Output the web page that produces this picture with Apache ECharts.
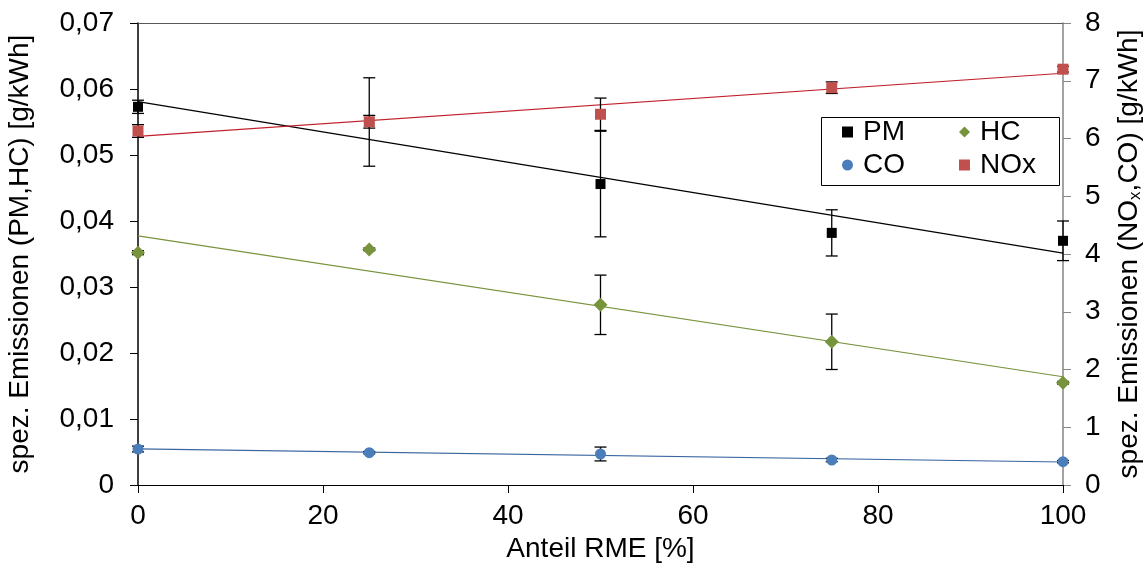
<!DOCTYPE html>
<html>
<head>
<meta charset="utf-8">
<script src="https://cdn.jsdelivr.net/npm/echarts@6/dist/echarts.min.js"></script>
<style>
  html, body { margin: 0; padding: 0; background: #fff; }
  #chart { width: 1147px; height: 565px; }
</style>
</head>
<body>
<div id="chart"></div>
<script>
// Anteil RME [%]
var shareRME = [0, 25, 50, 75, 100];
// left axis (g/kWh)
var pm = [0.0573, 0.0550, 0.0456, 0.0382, 0.0370];
var pmErr = [0.0010, 0.0067, 0.0080, 0.0035, 0.0030];
var hc = [0.0352, 0.0357, 0.0273, 0.0217, 0.0155];
var hcErr = [0.0003, 0.0002, 0.0045, 0.0042, 0.0002];
// right axis (g/kWh)
var co = [0.623, 0.560, 0.537, 0.433, 0.404];
var coErr = [0.05, 0.02, 0.12, 0.03, 0.02];
var nox = [6.13, 6.29, 6.42, 6.88, 7.20];
var noxErr = [0.11, 0.11, 0.28, 0.10, 0.05];

var xTicks = [0, 20, 40, 60, 80, 100];

var FONT = 'Liberation Sans';

function points(ys) {
    var out = [];
    for (var i = 0; i < shareRME.length; i++) out.push([shareRME[i], ys[i]]);
    return out;
}

function errRange(ys, es) {
    var out = [];
    for (var i = 0; i < shareRME.length; i++) out.push([shareRME[i], ys[i] - es[i], ys[i] + es[i]]);
    return out;
}

// linear trend line (least squares) like Excel
function trend(ys) {
    var n = shareRME.length, sx = 0, sy = 0, sxy = 0, sxx = 0;
    for (var i = 0; i < n; i++) {
        sx += shareRME[i]; sy += ys[i];
        sxy += shareRME[i] * ys[i]; sxx += shareRME[i] * shareRME[i];
    }
    var b = (n * sxy - sx * sy) / (n * sxx - sx * sx);
    var a = (sy - b * sx) / n;
    var x0 = xTicks[0], x1 = xTicks[xTicks.length - 1];
    return [[x0, a + b * x0], [x1, a + b * x1]];
}

function errorBars(params, api) {
    var x = api.value(0);
    var lo = api.coord([x, api.value(1)]);
    var hi = api.coord([x, api.value(2)]);
    var w = 6;
    var st = { stroke: '#000', lineWidth: 1.3 };
    return {
        type: 'group',
        children: [
            { type: 'line', shape: { x1: hi[0], y1: hi[1], x2: lo[0], y2: lo[1] }, style: st },
            { type: 'line', shape: { x1: hi[0] - w, y1: hi[1], x2: hi[0] + w, y2: hi[1] }, style: st },
            { type: 'line', shape: { x1: lo[0] - w, y1: lo[1], x2: lo[0] + w, y2: lo[1] }, style: st }
        ]
    };
}

function errSeries(name, ys, es, yIdx) {
    return {
        name: name, type: 'custom', yAxisIndex: yIdx, z: 3,
        renderItem: errorBars, data: errRange(ys, es),
        encode: { x: 0, y: [1, 2] }, silent: true
    };
}

function trendSeries(name, ys, yIdx, color) {
    return {
        name: name, type: 'line', yAxisIndex: yIdx, z: 2,
        data: trend(ys), symbol: 'none', silent: true,
        lineStyle: { color: color, width: 1.2 }
    };
}

function scatterSeries(name, ys, yIdx, symbol, size, color) {
    return {
        name: name, type: 'scatter', yAxisIndex: yIdx, z: 4,
        data: points(ys), symbol: symbol, symbolSize: size,
        itemStyle: { color: color, opacity: 1 }
    };
}

function legendCol(names, left) {
    return {
        data: names, left: left, top: 118,
        orient: 'vertical', itemGap: 5,
        itemWidth: 11, itemHeight: 11, padding: 0,
        textStyle: { fontFamily: FONT, fontSize: 28, color: '#000', lineHeight: 28, padding: [0, 0, 0, 5] }
    };
}

var option = {
    animation: false,
    textStyle: { fontFamily: FONT },
    grid: { left: 138, right: 84, top: 23, bottom: 80, outerBoundsMode: 'none' },
    legend: [legendCol(['PM', 'CO'], 842), legendCol(['HC', 'NOx'], 959)],
    graphic: [{
        type: 'rect', left: 819, top: 115, z: 10,
        shape: { width: 238, height: 68 },
        style: { fill: 'none', stroke: '#000', lineWidth: 1 }
    }],
    xAxis: [{
        type: 'value', min: 0, max: 100, interval: 20,
        name: 'Anteil RME [%]', nameLocation: 'middle', nameGap: 50,
        nameTextStyle: { fontFamily: FONT, fontSize: 28, color: '#000' },
        axisLine: { onZero: false, lineStyle: { color: '#000', width: 1.2 } },
        axisTick: { show: true, length: 8, lineStyle: { color: '#000' } },
        axisLabel: { fontFamily: FONT, fontSize: 28, color: '#000', margin: 17 },
        splitLine: { show: false }
    }, {
        type: 'value', min: 0, max: 100, position: 'top',
        axisLine: { show: true, onZero: false, lineStyle: { color: '#595959', width: 1.2 } },
        axisTick: { show: false }, axisLabel: { show: false }, splitLine: { show: false }
    }],
    yAxis: [{
        type: 'value', min: 0, max: 0.07, interval: 0.01, position: 'left',
        name: 'spez. Emissionen (PM,HC) [g/kWh]', nameLocation: 'middle', nameGap: 104, nameRotate: 90,
        nameTextStyle: { fontFamily: FONT, fontSize: 28, color: '#000' },
        axisLine: { show: true, onZero: false, lineStyle: { color: '#000', width: 1.5 } },
        axisTick: { show: true, length: 8, lineStyle: { color: '#000' } },
        axisLabel: {
            fontFamily: FONT, fontSize: 28, color: '#000', margin: 24,
            formatter: function (v) { return v === 0 ? '0' : v.toFixed(2).replace('.', ','); }
        },
        splitLine: { show: false }
    }, {
        type: 'value', min: 0, max: 8, interval: 1, position: 'right',
        name: 'spez. Emissionen (NO{sub|x},CO) [g/kWh]', nameLocation: 'middle', nameGap: 52, nameRotate: 90,
        nameTextStyle: {
            fontFamily: FONT, fontSize: 28, color: '#000',
            rich: { sub: { fontFamily: FONT, fontSize: 17, color: '#000', verticalAlign: 'bottom', padding: [12, 0, 0, 0] } }
        },
        axisLine: { show: true, onZero: false, lineStyle: { color: '#868686', width: 1.5 } },
        axisTick: { show: true, length: 8, lineStyle: { color: '#868686' } },
        axisLabel: { fontFamily: FONT, fontSize: 28, color: '#000', margin: 22 },
        splitLine: { show: false }
    }],
    series: [
        trendSeries('PM trend', pm, 0, '#000000'),
        trendSeries('HC trend', hc, 0, '#77933C'),
        trendSeries('CO trend', co, 1, '#3A66A0'),
        trendSeries('NOx trend', nox, 1, '#C0202A'),
        errSeries('PM err', pm, pmErr, 0),
        errSeries('HC err', hc, hcErr, 0),
        errSeries('CO err', co, coErr, 1),
        errSeries('NOx err', nox, noxErr, 1),
        scatterSeries('PM', pm, 0, 'rect', 10, '#000000'),
        scatterSeries('HC', hc, 0, 'diamond', 14, '#77933C'),
        scatterSeries('CO', co, 1, 'circle', 11, '#4A7EBB'),
        scatterSeries('NOx', nox, 1, 'rect', 11, '#C0504D')
    ]
};

var myChart = echarts.init(document.getElementById('chart'));
myChart.setOption(option);
</script>
</body>
</html>
